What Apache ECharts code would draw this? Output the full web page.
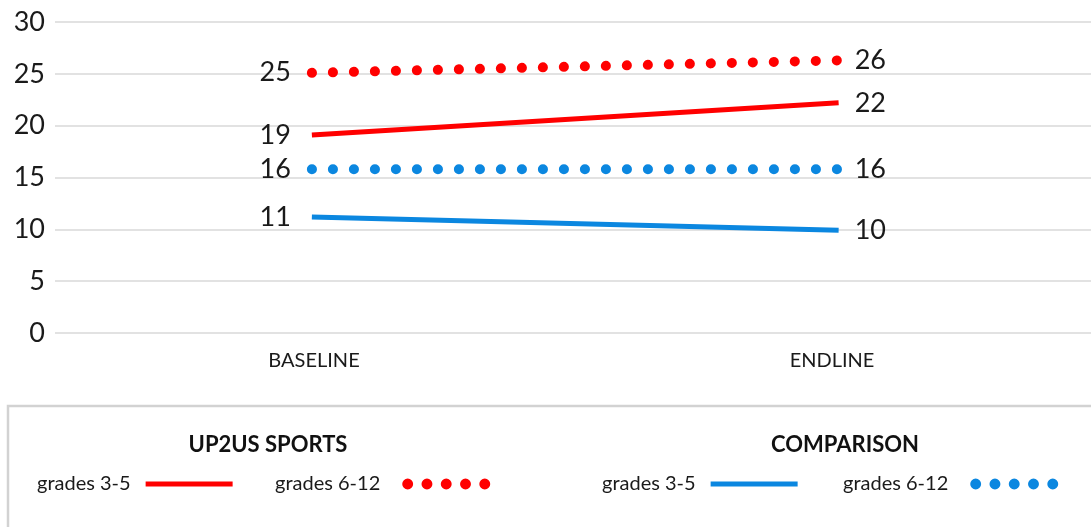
<!DOCTYPE html>
<html>
<head>
<meta charset="utf-8">
<script src="https://cdn.jsdelivr.net/npm/echarts@6/dist/echarts.min.js"></script>
<style>
html,body{margin:0;padding:0;background:#fff;}
#chart{width:1091px;height:527px;}
</style>
</head>
<body>
<div id="chart"></div>
<script>
// ---- data ----
const categories = ['BASELINE', 'ENDLINE'];
const yTicks = [0, 5, 10, 15, 20, 25, 30];
const groupTitles = ['UP2US SPORTS', 'COMPARISON'];
const seriesNames = ['UP2US grades 3-5', 'UP2US grades 6-12', 'COMPARISON grades 3-5', 'COMPARISON grades 6-12'];
const legendLabels = ['grades 3-5', 'grades 6-12', 'grades 3-5', 'grades 6-12'];
const up2usGrades35 = [19.1, 22.2];
const up2usGrades612 = [25.1, 26.3];
const compGrades35 = [11.2, 9.9];
const compGrades612 = [15.8, 15.8];

// ---- styles ----
const RED = '#ff0000';
const BLUE = '#0b87e0';
const FONT = 'Lato, "Noto Sans", sans-serif';
const TXT = '#1a1a1a';

function dotsPath(n, r, gap) {
  let p = '';
  for (let i = 0; i < n; i++) {
    const cx = r + i * gap;
    p += 'M' + (cx - r) + ',' + r + ' a' + r + ',' + r + ' 0 1,0 ' + (2 * r) + ',0 a' + r + ',' + r + ' 0 1,0 ' + (-2 * r) + ',0 Z ';
  }
  return 'path://' + p;
}

function mkData(vals) {
  return vals.map((v, i) => ({
    value: v,
    label: { position: i === 0 ? 'left' : 'right', distance: i === 0 ? 21 : 16 }
  }));
}

function mkSeries(name, vals, color, dotted) {
  return {
    name: name,
    type: 'line',
    xAxisIndex: 1,
    yAxisIndex: 1,
    data: mkData(vals),
    color: color,
    symbol: 'circle',
    symbolSize: 0.01,
    showSymbol: true,
    silent: true,
    lineStyle: dotted
      ? { color: color, width: 10, type: [0.1, 20.9], cap: 'round' }
      : { color: color, width: 5 },
    itemStyle: { color: color },
    label: {
      show: true,
      color: TXT,
      fontSize: 27,
      fontFamily: FONT,
      formatter: p => String(Math.round(p.value))
    },
    emphasis: { disabled: true },
    animation: false
  };
}

const colors = [RED, RED, BLUE, BLUE];
const dotted = [false, true, false, true];
const legendLeft = [37, 275, 602, 843];
const dotIcon = dotsPath(5, 5.5, 19.4);

const legends = seriesNames.map((n, i) => ({
  data: [{ name: n }],
  left: legendLeft[i],
  top: 473,
  padding: 0,
  align: 'right',
  icon: dotted[i] ? dotIcon : 'rect',
  itemWidth: dotted[i] ? 88 : 87,
  itemHeight: dotted[i] ? 11 : 5,
  itemStyle: { color: colors[i], borderWidth: 0 },
  selectedMode: false,
  formatter: () => legendLabels[i],
  textStyle: { fontSize: 20, fontFamily: FONT, color: TXT, lineHeight: 22, padding: [0, dotted[i] ? 17 : 10, 0, 0] }
}));

const yRange = { min: yTicks[0], max: yTicks[yTicks.length - 1], interval: yTicks[1] - yTicks[0] };

const option = {
  animation: false,
  backgroundColor: '#fff',
  grid: [
    { left: 55, right: 0, top: 22, bottom: 194, outerBoundsMode: 'none', containLabel: false },
    { left: 48.5, right: -11, top: 22, bottom: 194, outerBoundsMode: 'none', containLabel: false }
  ],
  title: [
    { text: groupTitles[0], left: 263, top: 429, textAlign: 'center',
      textStyle: { fontSize: 22, fontWeight: 'bold', fontFamily: FONT, color: '#111' } },
    { text: groupTitles[1], left: 840, top: 429, textAlign: 'center',
      textStyle: { fontSize: 22, fontWeight: 'bold', fontFamily: FONT, color: '#111' } }
  ],
  legend: legends,
  xAxis: [
    {
      type: 'category',
      gridIndex: 0,
      data: categories,
      boundaryGap: true,
      axisLine: { show: false },
      axisTick: { show: false },
      axisLabel: { fontSize: 20, fontFamily: FONT, color: TXT, margin: 18 }
    },
    {
      type: 'category',
      gridIndex: 1,
      data: categories,
      boundaryGap: true,
      show: false
    }
  ],
  yAxis: [
    {
      type: 'value',
      gridIndex: 0,
      min: yRange.min, max: yRange.max, interval: yRange.interval,
      axisLine: { show: false },
      axisTick: { show: false },
      axisLabel: { fontSize: 27, fontFamily: FONT, color: TXT, margin: 10 },
      splitLine: { lineStyle: { color: '#d9d9d9', width: 1.5 } }
    },
    {
      type: 'value',
      gridIndex: 1,
      min: yRange.min, max: yRange.max, interval: yRange.interval,
      show: false,
      splitLine: { show: false }
    }
  ],
  graphic: [
    { type: 'rect', shape: { x: 8, y: 406, width: 1200, height: 200 },
      style: { fill: 'none', stroke: '#d2d2d2', lineWidth: 2.5 }, silent: true }
  ],
  series: [
    mkSeries(seriesNames[0], up2usGrades35, RED, false),
    mkSeries(seriesNames[1], up2usGrades612, RED, true),
    mkSeries(seriesNames[2], compGrades35, BLUE, false),
    mkSeries(seriesNames[3], compGrades612, BLUE, true)
  ]
};

const chart = echarts.init(document.getElementById('chart'), null, { renderer: 'canvas' });
chart.setOption(option);
</script>
</body>
</html>
